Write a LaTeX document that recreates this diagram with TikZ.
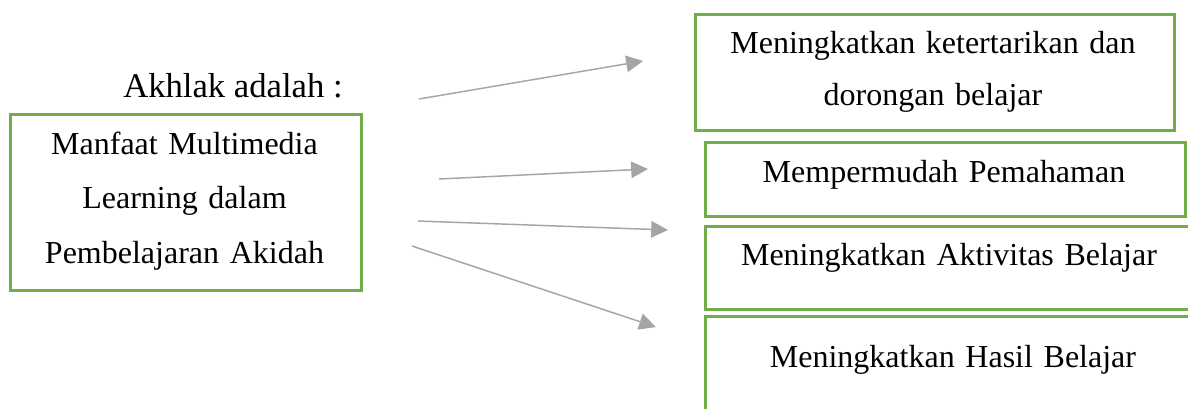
\documentclass[tikz,border=0pt]{standalone}
\usepackage{fontspec}
\setmainfont{Liberation Serif}
\usepackage{tikz}
\usetikzlibrary{arrows.meta}
\definecolor{boxgreen}{HTML}{70AD47}
\definecolor{arrowgray}{HTML}{A5A5A5}

\begin{document}
\begin{tikzpicture}[x=0.375pt, y=-0.375pt,
                    every node/.style={font=\fontsize{12}{20.6}\selectfont},
                    frame/.style={draw=boxgreen, line width=1.1pt, anchor=north west, inner sep=0pt},
                    caption/.style={anchor=base, align=center, inner sep=0pt},
                    pointer/.style={draw=arrowgray, line width=0.55pt,
                                    -{Triangle[length=6.3pt, width=6.2pt]}}]
  \clip (0,0) rectangle (1188,408);
  % boxes
  \node[frame, minimum width=131.6pt, minimum height=66pt] (manfaat) at (9,113) {};
  \node[frame, minimum width=179.6pt, minimum height=43.5pt] (minat) at (694,13) {};
  \node[frame, minimum width=180pt, minimum height=27.75pt] (paham) at (704,141) {};
  \node[frame, minimum width=183.75pt, minimum height=31.1pt] (aktif) at (704,225) {};
  \node[frame, minimum width=186.75pt, minimum height=41.25pt] (hasil) at (704,315) {};
  % texts
  \node[caption, font=\fontsize{13}{15}\selectfont] (akhlak) at (233,97) {Akhlak adalah :};
  \node[caption, text width=125pt] (manfaat-t) at (184.5,154)
    {Manfaat Multimedia\\Learning dalam\\Pembelajaran Akidah};
  \node[caption, text width=172pt, font=\fontsize{12}{19.5}\selectfont] (minat-t) at (933,53)
    {Meningkatkan ketertarikan dan\\dorongan belajar};
  \node[caption, text width=172pt] (paham-t) at (944,182) {Mempermudah Pemahaman};
  \node[caption, text width=172pt] (aktif-t) at (949,265) {Meningkatkan Aktivitas Belajar};
  \node[caption, text width=172pt] (hasil-t) at (953,367) {Meningkatkan Hasil Belajar};
  % arrows
  \coordinate (s1) at (419,99);  \coordinate (e1) at (643,61);
  \coordinate (s2) at (439,179); \coordinate (e2) at (648,169);
  \coordinate (s3) at (418,221); \coordinate (e3) at (668,230);
  \coordinate (s4) at (412,246); \coordinate (e4) at (656,327);
  \draw[pointer] (s1) -- (e1);
  \draw[pointer] (s2) -- (e2);
  \draw[pointer] (s3) -- (e3);
  \draw[pointer] (s4) -- (e4);
\end{tikzpicture}
\end{document}
